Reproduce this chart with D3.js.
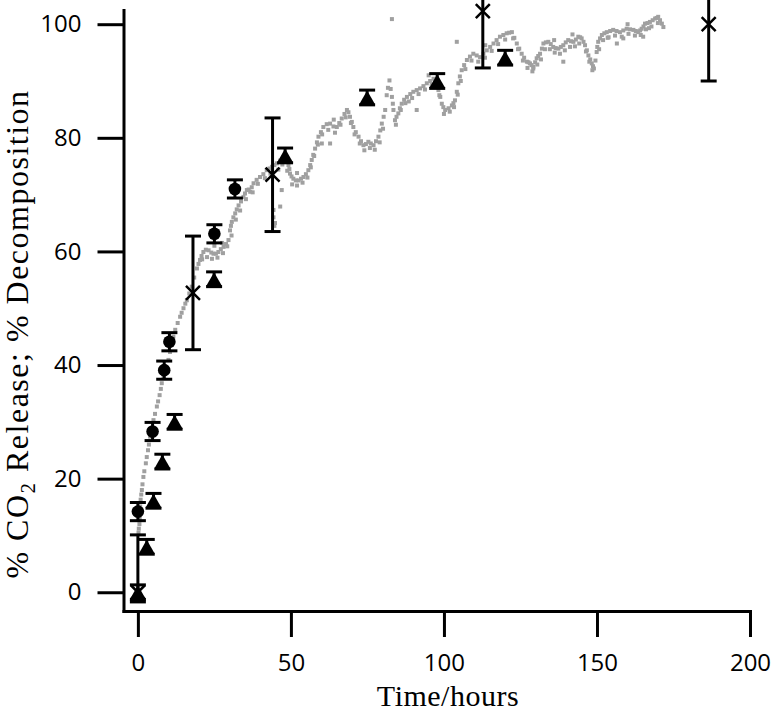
<!DOCTYPE html>
<html>
<head>
<meta charset="utf-8">
<script src="https://cdn.jsdelivr.net/npm/d3@7"></script>
<style>
  body { margin: 0; background: #fff; }
  .tick text { font-family: "Open Sans", sans-serif; font-size: 24px; fill: #000; }
  .title { font-family: "Liberation Serif", "Times New Roman", serif; fill: #000; }
</style>
</head>
<body>
<svg id="chart"></svg>
<script>
// axis extents and ticks
const xExtent = [-4.7, 200];
const yExtent = [-3.3, 102.5];
const xTicks = [0, 50, 100, 150, 200];
const yTicks = [0, 20, 40, 60, 80, 100];

// grey trace: continuous CO2 release readings [hours, %]
const trace = [
  [0.2, 10.5], [0.5, 12.0], [0.75, 15.1], [1.3, 18.0], [1.8, 20.3], [2.6, 22.7],
  [3.3, 25.0], [4.0, 27.4], [5.1, 30.3], [6.2, 32.7], [7.1, 34.7], [7.8, 36.8],
  [8.4, 38.0], [10.0, 40.9], [11.1, 43.8], [12.2, 46.2], [13.8, 48.5], [14.9, 50.0],
  [16.0, 51.4], [17.6, 53.8], [19.3, 57.0], [20.3, 58.5], [21.4, 59.9], [23.1, 60.2],
  [24.7, 59.6], [26.3, 59.9], [28.0, 60.8], [29.6, 62.0], [30.1, 63.7], [30.7, 65.2],
  [31.8, 66.7], [32.9, 68.1], [34.5, 69.6], [35.6, 70.8], [36.7, 70.5], [37.8, 72.0],
  [39.9, 73.1], [42.1, 74.3], [43.8, 74.9], [45.4, 75.5], [47.6, 76.6], [49.2, 75.2],
  [49.7, 73.7], [50.8, 72.8], [52.5, 72.5], [54.1, 73.1], [55.7, 74.3], [56.8, 76.1],
  [57.9, 78.1], [59.0, 80.2], [60.6, 81.9], [62.8, 82.5], [65.0, 81.9], [66.6, 83.4],
  [68.3, 84.9], [69.3, 83.7], [70.4, 81.9], [72.1, 80.2], [73.7, 78.7], [75.3, 79.3],
  [77.0, 78.7], [78.6, 80.2], [79.7, 82.5], [80.8, 84.9], [81.3, 87.5], [82.2, 90.1],
  [83.0, 87.2], [83.5, 84.9], [84.0, 83.1], [85.1, 84.3], [86.2, 86.0], [87.9, 87.2],
  [90.0, 88.1], [92.2, 88.7], [94.4, 89.6], [96.6, 90.4], [98.2, 88.4], [99.3, 86.0],
  [100.4, 84.9], [102.6, 85.7], [103.6, 86.6], [104.7, 89.6], [105.8, 91.9], [107.5, 93.7],
  [109.6, 94.8], [111.8, 94.2], [114.0, 95.4], [116.2, 96.6], [118.3, 97.8], [120.5, 98.4],
  [122.2, 98.6], [123.8, 96.6], [125.4, 94.8], [127.1, 93.4], [128.1, 93.1], [129.2, 92.5],
  [130.3, 94.0], [131.4, 94.8], [132.5, 96.6], [134.1, 96.9], [135.7, 96.0], [137.4, 95.7],
  [139.0, 96.3], [140.6, 97.2], [142.3, 96.9], [143.9, 97.8], [145.0, 97.5], [146.1, 96.3],
  [147.2, 94.5], [148.3, 93.1], [149.0, 92.2], [149.9, 95.1], [150.4, 96.9], [151.6, 98.1],
  [153.2, 98.6], [155.3, 99.0], [157.5, 98.6], [159.7, 99.2], [161.9, 99.0], [163.5, 98.6],
  [164.6, 99.2], [165.7, 100.1], [167.3, 100.4], [169.0, 101.0], [170.0, 101.3], [171.2, 100.1],
  [171.7, 99.5]
];
// more readings from the same trace, between the ones above
const trace2 = [
  [0.3, 11.2], [0.6, 13.0], [0.9, 16.3], [1.1, 17.2], [1.5, 19.0], [2.1, 21.3],
  [2.9, 23.8], [3.6, 26.0], [4.5, 28.8], [5.6, 31.4], [6.6, 33.6], [7.5, 35.8],
  [9.2, 39.5], [10.5, 42.3], [11.6, 45.0], [13.0, 47.4], [14.3, 49.2], [15.5, 50.8],
  [16.8, 52.6], [18.4, 55.4], [19.8, 57.8], [20.8, 59.2], [22.2, 60.3], [24.0, 59.8],
  [25.5, 59.6], [27.1, 60.4], [28.8, 61.3], [30.4, 64.5], [31.2, 66.0], [32.3, 67.4],
  [33.7, 68.8], [35.0, 70.2], [36.2, 70.9], [37.2, 71.3], [38.8, 72.6], [41.0, 73.6],
  [43.0, 74.6], [44.6, 75.2], [46.5, 76.0], [48.4, 76.2], [49.5, 74.5], [50.2, 73.2],
  [51.6, 72.5], [53.3, 72.8], [54.9, 73.6], [56.3, 75.2], [57.3, 77.0], [58.5, 79.2],
  [59.8, 81.0], [61.7, 82.4], [63.9, 82.0], [65.8, 82.6], [67.5, 84.2], [68.8, 84.5],
  [69.9, 82.8], [71.2, 81.0], [72.9, 79.4], [74.5, 78.9], [76.1, 79.0], [77.8, 79.4],
  [79.2, 81.3], [80.3, 83.7], [81.7, 88.8], [82.6, 88.6], [83.3, 86.0], [84.5, 83.7],
  [85.6, 85.2], [87.0, 86.7], [89.0, 87.7], [91.1, 88.4], [93.3, 89.1], [95.5, 90.0],
  [97.4, 89.4], [98.8, 87.2], [99.8, 85.4], [101.5, 85.2], [103.1, 86.1], [104.2, 88.1],
  [105.2, 90.8], [106.6, 92.8], [108.5, 94.3], [110.7, 94.5], [112.9, 94.8], [115.1, 96.0],
  [117.2, 97.2], [119.4, 98.1], [121.3, 98.5], [123.0, 97.6], [124.6, 95.7], [126.2, 94.1],
  [127.6, 93.3], [128.6, 92.8], [129.8, 93.3], [130.8, 94.4], [132.0, 95.7], [133.3, 96.8],
  [134.9, 96.5], [136.5, 95.8], [138.2, 96.0], [139.8, 96.8], [141.5, 97.0], [143.1, 97.3],
  [144.5, 97.7], [145.6, 96.9], [146.7, 95.4], [147.8, 93.8], [148.7, 92.6], [149.5, 93.6],
  [150.1, 96.0], [151.0, 97.5], [152.4, 98.4], [154.3, 98.8], [156.4, 98.8], [158.6, 98.9],
  [160.8, 99.1], [162.7, 98.8], [164.1, 98.9], [165.2, 99.6], [166.5, 100.2], [168.2, 100.7],
  [169.5, 101.1], [170.6, 100.7]
];
// lower edge of the grey band
const band = [
  [21.0, 58.6], [22.6, 59.0], [24.2, 58.7], [26.0, 58.9], [27.8, 59.7], [29.2, 60.9],
  [30.6, 62.8], [32.0, 65.6], [33.4, 67.2], [35.3, 69.2], [37.5, 70.4], [39.2, 71.9],
  [41.5, 72.9], [43.3, 73.7], [45.9, 74.4], [47.2, 75.3], [48.8, 74.2], [50.4, 71.8],
  [52.0, 71.6], [53.8, 72.1], [55.4, 73.0], [56.5, 74.8], [57.6, 76.8], [58.8, 78.8],
  [60.2, 80.6], [62.2, 81.4], [64.4, 80.9], [66.2, 82.3], [67.9, 83.6], [69.6, 82.6],
  [70.8, 80.6], [72.5, 79.0], [74.0, 77.8], [75.8, 78.2], [77.4, 77.9], [79.0, 79.2],
  [80.1, 81.6], [84.3, 82.3], [85.9, 84.9], [87.4, 86.1], [89.6, 87.0], [91.7, 87.7],
  [93.8, 88.5], [96.0, 89.3], [98.5, 87.5], [100.0, 84.2], [101.9, 84.6], [103.3, 85.4],
  [104.5, 87.6], [105.5, 90.0], [107.0, 92.1], [109.0, 93.6], [111.2, 93.4], [113.4, 94.1],
  [115.6, 95.3], [117.7, 96.5], [120.0, 97.3], [122.6, 97.5], [124.2, 95.6], [125.8, 93.6],
  [127.3, 92.3], [128.9, 91.7], [130.5, 92.9], [131.7, 93.8], [133.0, 95.6], [134.6, 95.6],
  [136.2, 95.0], [137.9, 94.8], [139.5, 95.4], [141.2, 96.0], [142.8, 96.1], [144.2, 96.6],
  [146.4, 95.2], [147.5, 93.4], [148.5, 91.9], [150.7, 95.6], [152.0, 97.2], [153.8, 97.7],
  [155.9, 98.0], [158.1, 97.8], [160.3, 98.3], [162.4, 98.0], [164.3, 98.1], [166.0, 99.1],
  [167.8, 99.6], [169.9, 100.2]
];
// stray grey readings
const strays = [
  [83.0, 100.9], [104.2, 96.9], [91.1, 84.9], [44.3, 67.3], [44.3, 66.0], [44.8, 65.0],
  [46.5, 67.9], [44.6, 64.5], [60.1, 79.0], [62.8, 79.0], [139.0, 93.4], [129.2, 92.2],
  [156.5, 96.6], [158.6, 97.5], [165.1, 97.8], [47.0, 70.8], [25.0, 61.0], [27.5, 61.5],
  [52.0, 73.8], [64.0, 83.2], [88.5, 86.4], [95.0, 91.0], [113.5, 96.3], [136.0, 97.2],
  [142.0, 98.2], [153.5, 97.6], [160.0, 100.0], [167.0, 99.3]
];

// filled circles with error bars
const circleT = [0, 4.8, 8.6, 10.3, 25.0, 31.7];
const circleV = [14.2, 28.3, 39.1, 44.1, 63.1, 71.0];
const circleErr = [1.6, 1.6, 1.6, 1.6, 1.6, 1.6];

// filled triangles with error bars
const triT = [0, 2.9, 5.1, 8.0, 12.0, 24.9, 48.1, 74.9, 97.8, 120.0];
const triV = [0, 8.0, 16.1, 23.0, 30.0, 55.1, 76.9, 87.1, 90.0, 94.1];
const triErr = [1.3, 1.3, 1.3, 1.3, 1.3, 1.3, 1.3, 1.3, 1.3, 1.3];

// crosses with error bars
const crossT = [0, 18.0, 44.0, 112.7, 186.5];
const crossV = [0, 52.7, 73.5, 102.3, 100.0];
const crossLo = [-1.7, 42.7, 63.5, 92.3, 90.0];
const crossHi = [10.1, 62.7, 83.5, 112.3, 110.0];

const W = 776, H = 714;
const svg = d3.select("#chart").attr("width", W).attr("height", H);

const x = d3.scaleLinear().domain(xExtent).range([123.5, 750]);
const y = d3.scaleLinear().domain(yExtent).range([611, 10]);

// grey readings
const grey = svg.append("g").attr("fill", "#a0a0a0");
grey.selectAll("rect")
    .data(trace.concat(trace2, band, strays))
    .enter()
    .append("rect")
    .attr("x", d => x(d[0]) - 2)
    .attr("y", d => y(d[1]) - 2)
    .attr("width", 4)
    .attr("height", 4);

// axes
const xAxis = svg.append("g")
                 .attr("transform", `translate(0,${y(yExtent[0])})`)
                 .call(d3.axisBottom(x).tickValues(xTicks).tickSize(26).tickSizeOuter(0).tickPadding(17));
const yAxis = svg.append("g")
                 .attr("transform", `translate(${x(xExtent[0])},0)`)
                 .call(d3.axisLeft(y).tickValues(yTicks).tickSize(26).tickSizeOuter(0).tickPadding(16));
[xAxis, yAxis].forEach(a => {
  a.selectAll("path, line").attr("stroke", "#000").attr("stroke-width", 3);
  a.select(".domain").attr("stroke-linecap", "square");
});

// error bars
function errorBars(g, ts, lo, hi, capW) {
  const bars = g.selectAll(null)
                .data(ts.map((t, i) => ({ t, lo: lo[i], hi: hi[i] })))
                .enter()
                .append("g")
                .attr("stroke", "#000")
                .attr("stroke-width", 3);
  bars.append("line")
      .attr("x1", d => x(d.t)).attr("x2", d => x(d.t))
      .attr("y1", d => y(d.lo)).attr("y2", d => y(d.hi));
  bars.append("line")
      .attr("x1", d => x(d.t) - capW / 2).attr("x2", d => x(d.t) + capW / 2)
      .attr("y1", d => y(d.lo)).attr("y2", d => y(d.lo));
  bars.append("line")
      .attr("x1", d => x(d.t) - capW / 2).attr("x2", d => x(d.t) + capW / 2)
      .attr("y1", d => y(d.hi)).attr("y2", d => y(d.hi));
}

const marks = svg.append("g");

errorBars(marks, circleT, circleV.map((v, i) => v - circleErr[i]), circleV.map((v, i) => v + circleErr[i]), 16);
marks.selectAll(".dot")
     .data(circleT.map((t, i) => [t, circleV[i]]))
     .enter()
     .append("circle")
     .attr("class", "dot")
     .attr("cx", d => x(d[0]))
     .attr("cy", d => y(d[1]))
     .attr("r", 6.3)
     .attr("fill", "#000");

errorBars(marks, triT, triV.map((v, i) => v - triErr[i]), triV.map((v, i) => v + triErr[i]), 16);
marks.selectAll(".tri")
     .data(triT.map((t, i) => [t, triV[i]]))
     .enter()
     .append("path")
     .attr("class", "tri")
     .attr("d", "M0,-7L8,7L-8,7Z")
     .attr("transform", d => `translate(${x(d[0])},${y(d[1])})`)
     .attr("fill", "#000");

errorBars(marks, crossT, crossLo, crossHi, 16);
marks.selectAll(".cross")
     .data(crossT.map((t, i) => [t, crossV[i]]))
     .enter()
     .append("path")
     .attr("class", "cross")
     .attr("d", "M-7,-7L7,7M-7,7L7,-7")
     .attr("transform", d => `translate(${x(d[0])},${y(d[1])})`)
     .attr("stroke", "#000")
     .attr("stroke-width", 2.5)
     .attr("fill", "none");

// axis titles
svg.append("text")
   .attr("class", "title")
   .attr("font-size", "30px")
   .attr("letter-spacing", "0.5px")
   .attr("x", 448)
   .attr("y", 706)
   .attr("text-anchor", "middle")
   .text("Time/hours");

const yTitle = svg.append("text")
   .attr("class", "title")
   .attr("font-size", "32px")
   .attr("letter-spacing", "1.5px")
   .attr("transform", "translate(28,334) rotate(-90)")
   .attr("text-anchor", "middle");
yTitle.append("tspan").text("% CO");
yTitle.append("tspan").attr("font-size", "21px").attr("dy", 7).text("2");
yTitle.append("tspan").attr("dy", -7).text(" Release; % Decomposition");
</script>
</body>
</html>
